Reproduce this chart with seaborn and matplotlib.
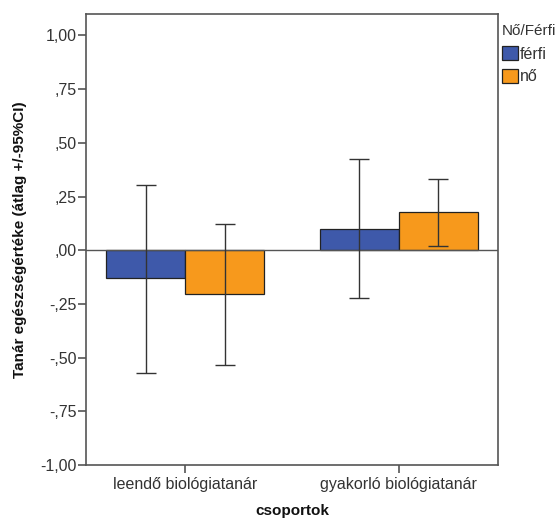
import numpy as np
import pandas as pd
import matplotlib
matplotlib.use("Agg")
import matplotlib.pyplot as plt
import seaborn as sns
from matplotlib.patches import Patch

sns.set_theme(style="white")
plt.rcParams['font.family'] = ['Liberation Sans', 'DejaVu Sans']

groups = ['leendő biológiatanár', 'gyakorló biológiatanár']
sexes = ['férfi', 'nő']
means_ferfi = [-0.131, 0.100]
means_no = [-0.204, 0.178]
lo_ferfi = [-0.571, -0.223]
hi_ferfi = [0.305, 0.423]
lo_no = [-0.534, 0.018]
hi_no = [0.121, 0.334]

colors = {'férfi': '#3E59AA', 'nő': '#F7991C'}
grey = '#555555'

df = pd.DataFrame({
    'csoport': groups * 2,
    'nem': ['férfi'] * 2 + ['nő'] * 2,
    'atlag': means_ferfi + means_no,
    'lo': lo_ferfi + lo_no,
    'hi': hi_ferfi + hi_no,
})

fig = plt.figure(figsize=(5.59, 5.19), dpi=100)
ax = fig.add_axes([86 / 559, 54 / 519, 412 / 559, 451 / 519])

sns.barplot(data=df, x='csoport', y='atlag', hue='nem', order=groups,
            hue_order=sexes, palette=colors, errorbar=None, width=0.74,
            edgecolor='#222222', linewidth=0.9, saturation=1, ax=ax,
            legend=False)

# error bars at bar centres
for s, cont in zip(sexes, ax.containers):
    sub = df[df['nem'] == s].set_index('csoport').loc[groups]
    xs = [b.get_x() + b.get_width() / 2 for b in cont]
    m = sub['atlag'].values
    ax.errorbar(xs, m, yerr=[m - sub['lo'].values, sub['hi'].values - m],
                fmt='none', ecolor='#333333', elinewidth=1, capsize=7,
                capthick=1, zorder=3)

ax.axhline(0, color=grey, linewidth=1, zorder=2.5)
ax.set_ylim(-1.0, 1.10)
ax.set_xlim(-0.465, 1.465)
yt = np.arange(-1.0, 1.01, 0.25)
ax.set_yticks(yt)
ax.set_yticklabels([('-' if v < 0 else '') + ('%.2f' % abs(v)).replace('0.', ',').replace('1.', '1,') for v in yt])

for sp in ax.spines.values():
    sp.set_color(grey)
    sp.set_linewidth(1.2)
ax.tick_params(axis='both', colors=grey, direction='out', length=6, width=1.2,
               labelsize=11.5, labelcolor='#333333', left=True, bottom=True)
ax.tick_params(axis='y', pad=1)
ax.tick_params(axis='x', pad=3)
ax.set_xlabel('csoportok', fontsize=11, fontweight='bold', color='#111111', labelpad=8)
ax.set_ylabel('Tanár egészségértéke (átlag +/-95%CI)', fontsize=11,
              fontweight='bold', color='#111111', labelpad=9)

handles = [Patch(facecolor=colors[s], edgecolor='#222222', linewidth=0.9) for s in sexes]
leg = fig.legend(handles, sexes, title='Nő/Férfi', loc='upper left',
                 bbox_to_anchor=(492 / 559, 1 - 14 / 519), frameon=False,
                 fontsize=11.5, title_fontsize=11, handlelength=1.0,
                 handleheight=1.0, handletextpad=0.15, labelspacing=0.45,
                 borderpad=0.1)
leg._legend_box.align = 'left'
leg._legend_box.sep = 6
for t in leg.get_texts():
    t.set_color('#333333')
leg.get_title().set_color('#333333')

fig.savefig('out.png', dpi=100)
